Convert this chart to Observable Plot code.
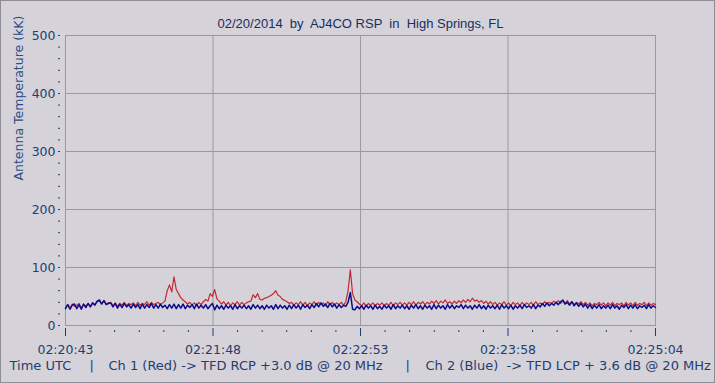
<!DOCTYPE html>
<html>
<head>
<meta charset="utf-8">
<script src="https://cdn.jsdelivr.net/npm/d3@7"></script>
<script src="https://cdn.jsdelivr.net/npm/@observablehq/plot@0.6"></script>
<style>
  html, body { margin: 0; padding: 0; background: #d5d3d9; }
  #wrap { position: relative; width: 715px; height: 383px; overflow: hidden; }
  #border { position: absolute; left: 0; top: 0; width: 713px; height: 381px; border: 1px solid #8e8c94; pointer-events: none; }
  svg text { white-space: pre; }
</style>
</head>
<body>
<div id="wrap"><div id="border"></div></div>
<script>
// Time axis: seconds after 02:20:43 UTC
const tickLabels = ["02:20:43", "02:21:48", "02:22:53", "02:23:58", "02:25:04"];
const tickSeconds = [0, 65.25, 130.5, 195.75, 261];

// Ch 1 (Red) antenna temperature, kK, one reading per second
const redValues = [
  31,36,30,37,33,35,38,30,36,34,
  37,33,39,36,41,42,38,43,37,39,
  40,34,39,33,38,35,40,34,38,36,
  39,34,40,35,38,36,41,35,40,36,
  38,40,36,39,42,60,70,58,84,62,
  55,48,44,41,37,40,35,39,34,40,
  36,41,45,42,55,50,62,46,42,37,
  41,35,40,34,39,36,41,35,40,36,
  39,41,42,53,48,55,45,44,47,48,
  50,52,55,60,52,50,45,43,41,38,
  40,35,39,36,41,35,40,34,39,36,
  41,35,40,36,39,34,41,36,40,35,
  39,36,40,35,41,60,96,55,44,41,
  37,34,39,33,38,35,39,34,38,35,
  39,34,38,35,40,34,39,36,40,35,
  39,35,40,36,41,35,40,37,41,36,
  40,37,42,38,43,37,42,39,44,38,
  41,37,42,38,43,39,44,40,45,41,
  47,42,44,40,43,38,42,37,41,36,
  40,35,39,36,41,35,39,34,40,36,
  39,34,40,35,39,36,40,35,41,36,
  39,36,41,37,40,38,42,39,43,38,
  42,38,43,37,41,36,40,37,41,36,
  40,35,39,34,38,36,40,35,39,34,
  39,35,40,34,38,36,39,34,40,35,
  39,34,40,35,38,36,40,34,39,35,
  38,36
];

// Ch 2 (Blue) antenna temperature, kK, one reading per second
const blueValues = [
  29,36,28,35,37,29,36,28,37,31,
  38,32,39,35,42,44,37,43,36,38,
  39,32,38,30,37,31,38,32,36,30,
  37,31,36,29,37,30,36,31,38,30,
  36,30,37,31,35,29,36,30,37,29,
  36,30,37,29,35,31,36,29,37,30,
  35,30,36,29,34,38,27,35,29,34,
  28,35,30,34,28,36,29,34,30,35,
  29,34,28,36,30,35,29,34,28,35,
  30,34,28,36,29,35,30,34,28,35,
  29,36,30,35,28,36,31,35,29,36,
  31,38,32,39,33,37,31,38,32,37,
  30,36,31,35,33,40,57,28,27,33,
  29,34,28,35,30,34,28,35,29,33,
  28,35,30,34,28,36,29,34,30,35,
  29,34,28,35,30,36,29,34,28,35,
  30,34,28,36,29,35,30,34,28,36,
  30,35,29,34,31,36,29,35,30,34,
  28,35,30,36,29,34,28,35,30,34,
  29,35,28,36,30,34,29,35,28,34,
  30,35,29,36,31,34,30,36,29,35,
  32,38,33,39,34,38,35,40,36,41,
  44,37,40,35,41,34,39,33,38,32,
  37,30,36,29,35,30,36,29,34,30,
  35,29,36,30,34,28,35,31,36,29,
  35,30,36,29,34,31,35,29,36,30,
  34,31
];

const yMajor = [0, 100, 200, 300, 400, 500];
const yMinor = d3.range(0, 501, 20).filter(v => v % 100 !== 0);
const xMinor = d3.range(0, 25).filter(i => i % 6 !== 0).map(i => i * 261 / 24);

const red = redValues.map((v, i) => ({t: i, v}));
const blue = blueValues.map((v, i) => ({t: i, v}));

const textColor = "#1f3d72";
const sans = "'DejaVu Sans', sans-serif";

const chart = Plot.plot({
  width: 715,
  height: 383,
  marginLeft: 65,
  marginRight: 60,
  marginTop: 35,
  marginBottom: 58,
  style: { background: "transparent", fontFamily: sans, fontSize: "12px", color: textColor, overflow: "visible" },
  x: { domain: [0, 261], axis: null },
  y: { domain: [0, 500], axis: null },
  marks: [
    Plot.gridY([100, 200, 300, 400], { stroke: "#9a9a9e", strokeOpacity: 1 }),
    Plot.gridX(tickSeconds.slice(1, -1), { stroke: "#9a9a9e", strokeOpacity: 1 }),
    Plot.frame({ stroke: "#9a9a9e" }),
    Plot.lineY(red, { x: "t", y: "v", stroke: "#c4282c", strokeWidth: 1.2 }),
    Plot.lineY(blue, { x: "t", y: "v", stroke: "#0c0c8a", strokeWidth: 1.5 }),
    Plot.axisY(yMajor, { tickSize: 2, dx: -5, tickPadding: 3, stroke: textColor, fill: textColor, label: null, fontSize: 12.5 }),
    Plot.axisY(yMinor, { tickSize: 2, dx: -5, tickFormat: () => "", stroke: textColor, label: null }),
    Plot.axisX(tickSeconds, { tickSize: 8, dy: 3, tickPadding: 9, stroke: textColor, fill: textColor, tickFormat: (d, i) => tickLabels[i], label: null, fontSize: 12.5 }),
    Plot.axisX(xMinor, { tickSize: 2, dy: 5, tickFormat: () => "", stroke: textColor, label: null }),
    Plot.text(["Antenna Temperature (kK)"], { frameAnchor: "left", rotate: -90, dx: -47, fill: "#2a4c88", fontSize: 12.5 }),
    Plot.text(["02/20/2014  by  AJ4CO RSP  in  High Springs, FL"], { frameAnchor: "top", dy: -17, fill: "#1a2d5e", fontSize: 13, fontFamily: "'Liberation Sans', Arial, sans-serif" }),
    Plot.text(["Time UTC"], { frameAnchor: "bottom-left", textAnchor: "start", dx: -56, dy: 44, fill: textColor, fontSize: 13 }),
    Plot.text(["|"], { frameAnchor: "bottom-left", dx: 24, dy: 44, fill: textColor, fontSize: 13 }),
    Plot.text(["Ch 1 (Red) -> TFD RCP +3.0 dB @ 20 MHz"], { frameAnchor: "bottom-left", textAnchor: "start", dx: 43, dy: 44, fill: textColor, fontSize: 13 }),
    Plot.text(["|"], { frameAnchor: "bottom-left", dx: 340, dy: 44, fill: textColor, fontSize: 13 }),
    Plot.text(["Ch 2 (Blue)  -> TFD LCP + 3.6 dB @ 20 MHz"], { frameAnchor: "bottom-left", textAnchor: "start", dx: 360, dy: 44, fill: textColor, fontSize: 13 })
  ]
});
document.getElementById("wrap").prepend(chart);
</script>
</body>
</html>
